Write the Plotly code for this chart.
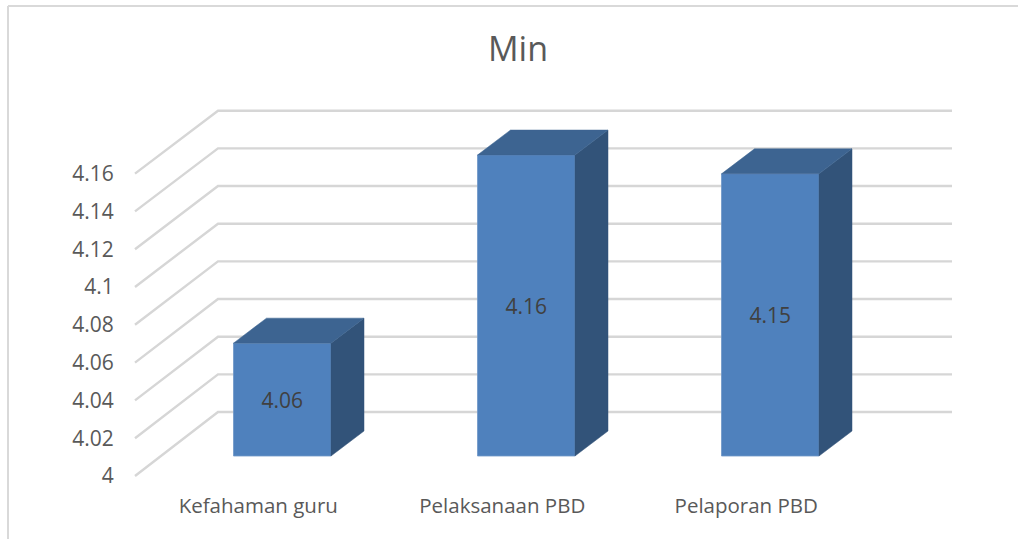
import plotly.graph_objects as go

# Data
categories = ["Kefahaman guru", "Pelaksanaan PBD", "Pelaporan PBD"]
values = [4.06, 4.16, 4.15]
tick_values = [4, 4.02, 4.04, 4.06, 4.08, 4.1, 4.12, 4.14, 4.16]
tick_labels = ["4", "4.02", "4.04", "4.06", "4.08", "4.1", "4.12", "4.14", "4.16"]

# Geometry of the pseudo-3D projection (pixels)
W, H = 1018, 539
PLOT_L, PLOT_R, PLOT_T, PLOT_B = 120, 960, 100, 490
CAT_PX0, CAT_STEP = 282.25, 244.0       # px of first category centre, px per category
WALL_S, WALL_Y0 = 1890.0, 476.0         # px per unit and px of value 4 on the front wall edge
BACK_S, BACK_Y0 = 1883.0, 412.0         # same on the back wall
BAR_S, BAR_Y0 = 1881.0, 456.0           # same on the front plane of the columns
WALL_FRONT_X, WALL_BACK_X, WALL_RIGHT_X = 135.0, 218.0, 952.0
BAR_W = 97.5 / CAT_STEP
DX, DY = 33.0 / CAT_STEP, 25.0 / BAR_S  # column depth in axis units
LABEL_SHIFT = 24.0 / CAT_STEP

FRONT, TOP, SIDE = "#4F81BD", "#3D6491", "#325379"
GRID = "#D6D6D6"
TEXT = "#595959"
FONT = "Open Sans"


def xu(px):
    return (px - CAT_PX0) / CAT_STEP


def back_value(v):
    # a back-wall value expressed on the front-wall axis
    return 4 + (WALL_Y0 - BACK_Y0) / WALL_S + (v - 4) * BACK_S / WALL_S


fig = go.Figure()

# Walls: diagonal side lines and back-wall gridlines
for v in tick_values:
    fig.add_trace(go.Scatter(
        x=[xu(WALL_FRONT_X), xu(WALL_BACK_X), xu(WALL_RIGHT_X)],
        y=[v, back_value(v), back_value(v)],
        mode="lines", line=dict(color=GRID, width=2.4),
        hoverinfo="skip", showlegend=False, xaxis="x", yaxis="y",
    ))

# Front faces of the columns
fig.add_trace(go.Bar(
    x=list(range(len(categories))),
    y=[v - 4 for v in values], base=[4] * len(values),
    width=BAR_W,
    marker=dict(color=FRONT, line=dict(color="#6F97C8", width=0.8)),
    text=[f"{v:.2f}" for v in values], textposition="inside",
    insidetextanchor="middle", textangle=0,
    textfont=dict(family=FONT, size=21, color="#404040"),
    showlegend=False, xaxis="x", yaxis="y2",
))

# Side and top faces
for i, v in enumerate(values):
    l, r = i - BAR_W / 2, i + BAR_W / 2
    fig.add_trace(go.Scatter(
        x=[r, r + DX, r + DX, r, r], y=[4, 4 + DY, v + DY, v, 4],
        mode="lines", fill="toself", fillcolor=SIDE, line=dict(color=SIDE, width=0.5),
        hoverinfo="skip", showlegend=False, xaxis="x", yaxis="y2",
    ))
    fig.add_trace(go.Scatter(
        x=[l, l + DX, r + DX, r, l], y=[v, v + DY, v + DY, v, v],
        mode="lines", fill="toself", fillcolor=TOP, line=dict(color=TOP, width=0.5),
        hoverinfo="skip", showlegend=False, xaxis="x", yaxis="y2",
    ))

fig.update_layout(
    width=W, height=H, autosize=False,
    margin=dict(l=0, r=0, t=0, b=0),
    paper_bgcolor="white", plot_bgcolor="white",
    font=dict(family=FONT, color=TEXT),
    title=dict(text="Min", x=518 / W, xanchor="center", y=1 - 49 / H, yanchor="middle",
               font=dict(family=FONT, size=34, color=TEXT)),
    xaxis=dict(
        domain=[PLOT_L / W, PLOT_R / W],
        range=[xu(PLOT_L), xu(PLOT_R)],
        tickmode="array",
        tickvals=[i - LABEL_SHIFT for i in range(len(categories))],
        ticktext=categories,
        tickfont=dict(family=FONT, size=20.5, color=TEXT),
        showgrid=False, zeroline=False, showline=False,
        ticks="outside", ticklen=1, tickcolor="rgba(0,0,0,0)",
        ticklabelstandoff=-4,
    ),
    yaxis=dict(
        domain=[1 - PLOT_B / H, 1 - PLOT_T / H],
        range=[4 - (PLOT_B - WALL_Y0) / WALL_S, 4 + (WALL_Y0 - PLOT_T) / WALL_S],
        tickmode="array", tickvals=tick_values, ticktext=tick_labels,
        tickfont=dict(family=FONT, size=21, color=TEXT),
        showgrid=False, zeroline=False, showline=False,
        ticks="outside", ticklen=1, tickcolor="rgba(0,0,0,0)",
    ),
    yaxis2=dict(
        overlaying="y", side="left",
        range=[4 - (PLOT_B - BAR_Y0) / BAR_S, 4 + (BAR_Y0 - PLOT_T) / BAR_S],
        showticklabels=False, showgrid=False, zeroline=False, showline=False,
    ),
    shapes=[
        dict(type="line", xref="paper", yref="paper", x0=8 / W, x1=1, y0=1 - 6 / H, y1=1 - 6 / H,
             line=dict(color="#D9D9D9", width=2)),
        dict(type="line", xref="paper", yref="paper", x0=8 / W, x1=8 / W, y0=0, y1=1 - 6 / H,
             line=dict(color="#D9D9D9", width=2)),
    ],
)

fig.write_html(
    "out.html",
    config={"displayModeBar": False},
    post_script="document.body.style.margin='0';document.body.style.overflow='hidden';",
)
